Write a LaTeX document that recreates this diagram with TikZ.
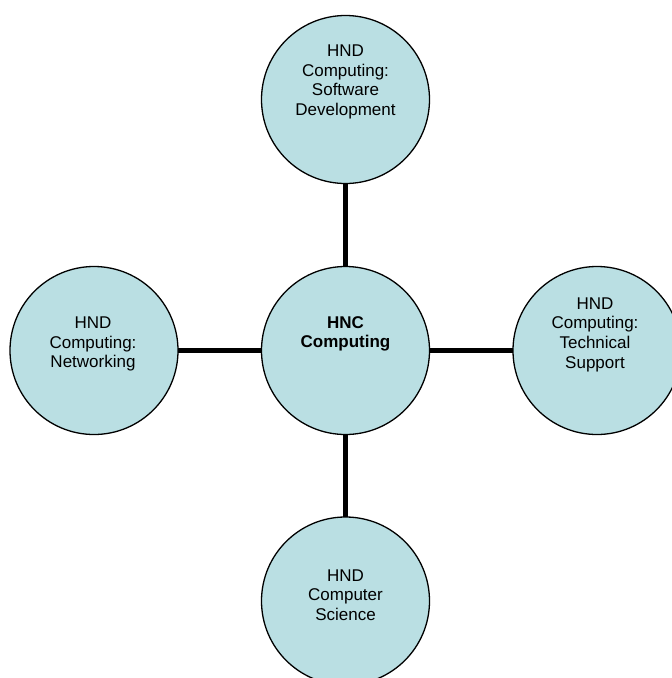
\documentclass[tikz,border=0pt]{standalone}
\usepackage{fontspec}
\setmainfont{Liberation Sans}
\definecolor{bubble}{RGB}{186,223,227}
\begin{document}
\begin{tikzpicture}[x=1pt,y=-1pt,
  bubble/.style={circle,draw=black,line width=1.3pt,fill=bubble,minimum size=168pt,inner sep=0pt,outer sep=0pt},
  txt/.style={align=center,font=\fontsize{17}{19.7}\selectfont,inner sep=0pt},
  link/.style={line width=4.5pt}]
\useasboundingbox (0,0) rectangle (672,678);
\coordinate (cc) at (345.5,350.5);
\coordinate (ct) at (345.5,99.5);
\coordinate (cl) at (94,350.5);
\coordinate (cr) at (597,350.5);
\coordinate (cb) at (345.5,601);
\draw[link] (cc) -- (ct);
\draw[link] (cc) -- (cl);
\draw[link] (cc) -- (cr);
\draw[link] (cc) -- (cb);
\node[bubble] (hnc) at (cc) {};
\node[bubble] (sd) at (ct) {};
\node[bubble] (net) at (cl) {};
\node[bubble] (ts) at (cr) {};
\node[bubble] (cs) at (cb) {};
\node[txt,font=\fontsize{17}{19.7}\selectfont\bfseries] (thnc) at (345.5,334) {HNC\\Computing};
\node[txt] (tsd) at (345.5,82) {HND\\Computing:\\Software\\Development};
\node[txt] (tnet) at (93,344) {HND\\Computing:\\Networking};
\node[txt] (tts) at (595,334.5) {HND\\Computing:\\Technical\\Support};
\node[txt] (tcs) at (345.5,595) {HND\\Computer\\Science};
\end{tikzpicture}
\end{document}
